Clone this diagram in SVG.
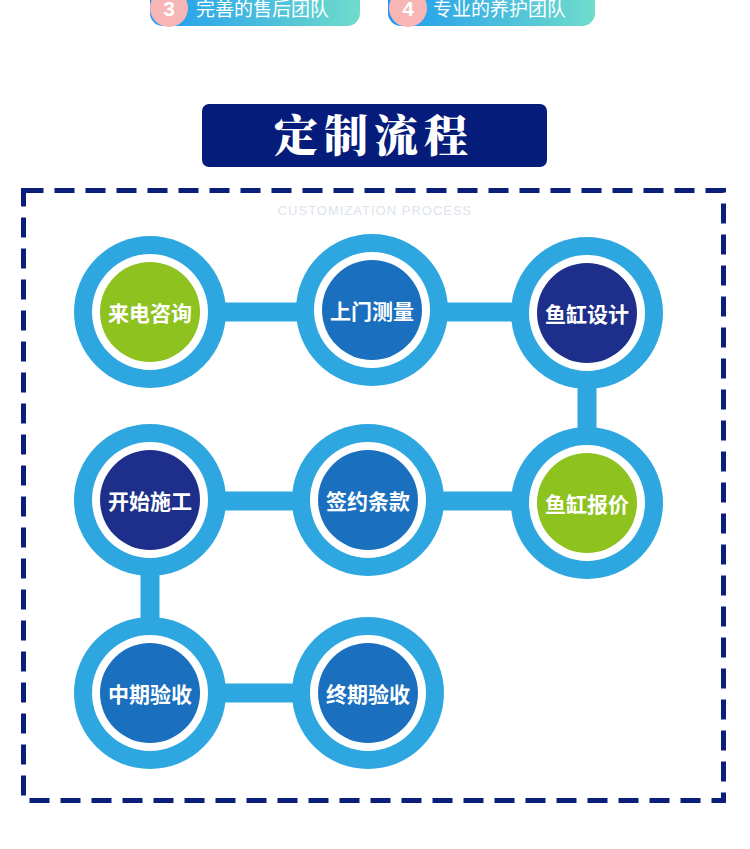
<svg xmlns="http://www.w3.org/2000/svg" width="750" height="849" viewBox="0 0 750 849">
<defs>
<linearGradient id="pg" x1="0" x2="1" y1="0" y2="0"><stop offset="0" stop-color="#1E9BEF"/><stop offset="1" stop-color="#6FDCCB"/></linearGradient>
<style>
.ring{fill:#2EA7E0}.wh{fill:#fff}
.t{font-family:"Noto Sans CJK SC",sans-serif;font-weight:bold;font-size:21px;fill:#fff;text-anchor:middle;dominant-baseline:central}
.pt{font-family:"Noto Sans CJK SC",sans-serif;font-size:19px;fill:#fff}
.con{stroke:#2EA7E0;stroke-width:19;fill:none}
</style>
</defs>
<rect width="750" height="849" fill="#fff"/>
<g id="pill3"><rect x="150" y="-20" width="210" height="46" rx="13" fill="url(#pg)"/><circle cx="169" cy="8" r="19" fill="#F7B5B5"/><text x="169" y="16" font-family="Liberation Sans,sans-serif" font-weight="bold" font-size="21" fill="#fff" text-anchor="middle">3</text><text class="pt" x="196" y="16">完善的售后团队</text></g>
<g id="pill4"><rect x="388" y="-20" width="207" height="46" rx="13" fill="url(#pg)"/><circle cx="408" cy="8" r="19" fill="#F7B5B5"/><text x="408" y="16" font-family="Liberation Sans,sans-serif" font-weight="bold" font-size="21" fill="#fff" text-anchor="middle">4</text><text class="pt" x="433" y="16">专业的养护团队</text></g>
<g id="title"><rect x="202" y="104" width="345" height="63" rx="7" fill="#061C7B"/><text x="374" y="152" font-family="Noto Serif CJK SC,Noto Sans CJK SC,serif" font-weight="900" font-size="44" fill="#fff" text-anchor="middle" letter-spacing="6">定制流程</text></g>
<rect x="23.5" y="190.5" width="700" height="610" fill="none" stroke="#0A1F7A" stroke-width="5" stroke-dasharray="20 11"/>
<text x="375" y="215" font-family="Liberation Sans,sans-serif" font-size="13" fill="#dde3ea" text-anchor="middle" letter-spacing="1">CUSTOMIZATION PROCESS</text>
<g id="connectors">
<line class="con" x1="150" y1="312" x2="587" y2="312"/>
<line class="con" x1="587" y1="312" x2="587" y2="503"/>
<line class="con" x1="150" y1="501" x2="587" y2="501"/>
<line class="con" x1="150" y1="501" x2="150" y2="693"/>
<line class="con" x1="150" y1="693" x2="368" y2="693"/>
</g>
<g id="n1"><circle class="ring" cx="150" cy="312" r="76"/><circle class="wh" cx="150" cy="312" r="58"/><circle cx="150" cy="312" r="50" fill="#8DC21F"/><text class="t" x="150" y="312">来电咨询</text></g>
<g id="n2"><circle class="ring" cx="372" cy="310" r="76"/><circle class="wh" cx="372" cy="310" r="58"/><circle cx="372" cy="310" r="50" fill="#1A6FBF"/><text class="t" x="372" y="310">上门测量</text></g>
<g id="n3"><circle class="ring" cx="587" cy="313" r="76"/><circle class="wh" cx="587" cy="313" r="58"/><circle cx="587" cy="313" r="50" fill="#1D2F8A"/><text class="t" x="587" y="313">鱼缸设计</text></g>
<g id="n4"><circle class="ring" cx="587" cy="503" r="76"/><circle class="wh" cx="587" cy="503" r="58"/><circle cx="587" cy="503" r="50" fill="#8DC21F"/><text class="t" x="587" y="503">鱼缸报价</text></g>
<g id="n5"><circle class="ring" cx="368" cy="500" r="76"/><circle class="wh" cx="368" cy="500" r="58"/><circle cx="368" cy="500" r="50" fill="#1A6FBF"/><text class="t" x="368" y="500">签约条款</text></g>
<g id="n6"><circle class="ring" cx="150" cy="500" r="76"/><circle class="wh" cx="150" cy="500" r="58"/><circle cx="150" cy="500" r="50" fill="#1D2F8A"/><text class="t" x="150" y="500">开始施工</text></g>
<g id="n7"><circle class="ring" cx="150" cy="693" r="76"/><circle class="wh" cx="150" cy="693" r="58"/><circle cx="150" cy="693" r="50" fill="#1A6FBF"/><text class="t" x="150" y="693">中期验收</text></g>
<g id="n8"><circle class="ring" cx="368" cy="693" r="76"/><circle class="wh" cx="368" cy="693" r="58"/><circle cx="368" cy="693" r="50" fill="#1A6FBF"/><text class="t" x="368" y="693">终期验收</text></g>
</svg>
